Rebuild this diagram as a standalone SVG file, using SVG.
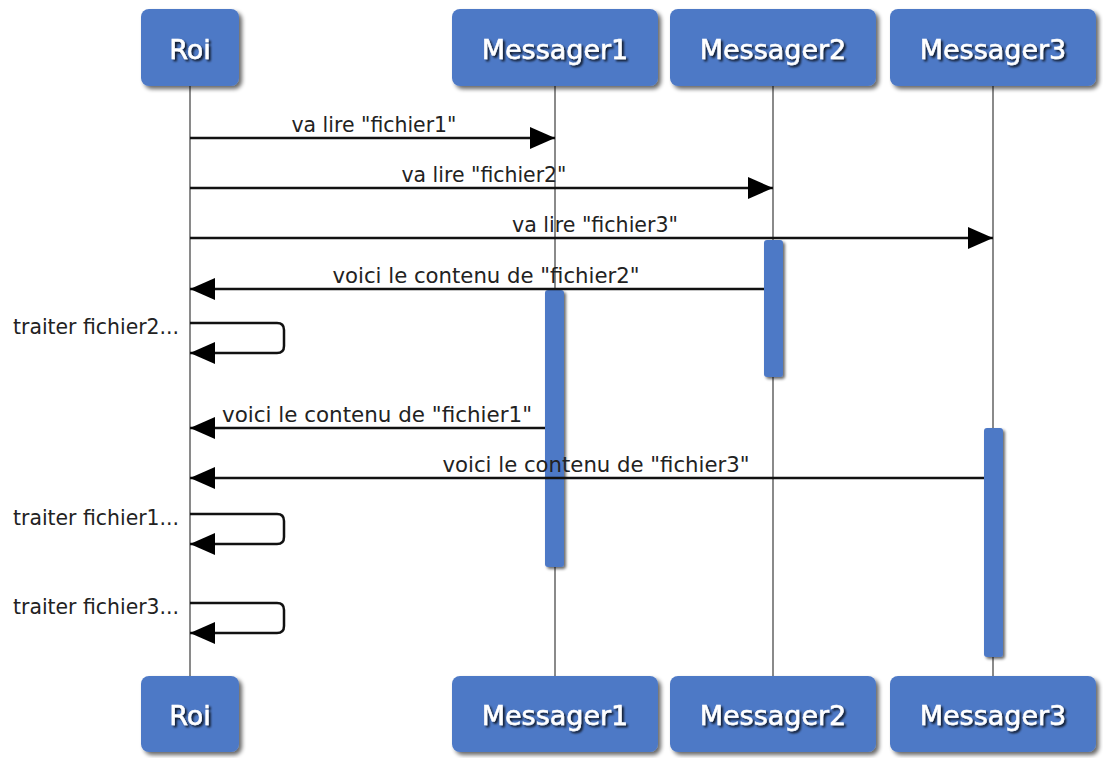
<svg xmlns="http://www.w3.org/2000/svg" width="1103" height="758" viewBox="0 0 1103 758">
<style>
.box{fill:#4e79c6;filter:url(#sh);}
.act{fill:#4e79c6;filter:url(#sh2);}
.nt{font-family:"DejaVu Sans",Verdana,sans-serif;font-size:27px;fill:#ffffff;stroke:#ffffff;stroke-width:0.5;text-anchor:middle;filter:url(#tsh);}
.life{stroke:#8a8a8a;stroke-width:2;fill:none;}
.msg{stroke:#111;stroke-width:2.5;fill:none;marker-end:url(#ah);}
.lbl{font-family:"DejaVu Sans",Verdana,sans-serif;font-size:22px;fill:#222;text-anchor:middle;}
.sl{font-family:"DejaVu Sans",Verdana,sans-serif;font-size:22px;fill:#222;text-anchor:end;}
</style>
<defs>
<filter id="sh" x="-10%" y="-10%" width="130%" height="130%">
<feGaussianBlur in="SourceAlpha" stdDeviation="2"/>
<feOffset dx="3" dy="3" result="b"/>
<feComponentTransfer><feFuncA type="linear" slope="0.6"/></feComponentTransfer>
<feMerge><feMergeNode/><feMergeNode in="SourceGraphic"/></feMerge>
</filter>
<filter id="sh2" x="-50%" y="-10%" width="200%" height="120%">
<feGaussianBlur in="SourceAlpha" stdDeviation="1.5"/>
<feOffset dx="2" dy="2" result="b"/>
<feComponentTransfer><feFuncA type="linear" slope="0.6"/></feComponentTransfer>
<feMerge><feMergeNode/><feMergeNode in="SourceGraphic"/></feMerge>
</filter>
<filter id="tsh" x="-10%" y="-30%" width="120%" height="160%">
<feGaussianBlur in="SourceAlpha" stdDeviation="1.2"/>
<feOffset dx="1.5" dy="1.5" result="b"/>
<feComponentTransfer><feFuncA type="linear" slope="0.8"/></feComponentTransfer>
<feMerge><feMergeNode/><feMergeNode in="SourceGraphic"/></feMerge>
</filter>
<marker id="ah" markerUnits="userSpaceOnUse" markerWidth="28" markerHeight="26" refX="25" refY="11" orient="auto">
<path d="M0,0 L25,11 L0,22 z" fill="#000"/>
</marker>
</defs>

<g id="lifelines">
<line class="life" x1="190" y1="86" x2="190" y2="677"/>
<line class="life" x1="555" y1="86" x2="555" y2="677"/>
<line class="life" x1="773" y1="86" x2="773" y2="677"/>
<line class="life" x1="993" y1="86" x2="993" y2="677"/>
</g>

<g id="Roi">
<rect class="box" x="141" y="9" width="98" height="77" rx="8"/>
<text class="nt" x="190" y="59">Roi</text>
<rect class="box" x="141" y="676" width="98" height="76" rx="8"/>
<text class="nt" x="190" y="725">Roi</text>
</g>
<g id="Messager1">
<rect class="box" x="452" y="9" width="206" height="77" rx="8"/>
<text class="nt" x="555" y="59">Messager1</text>
<rect class="box" x="452" y="676" width="206" height="76" rx="8"/>
<text class="nt" x="555" y="725">Messager1</text>
<rect class="act" x="545" y="290" width="19" height="277" rx="3"/>
</g>
<g id="Messager2">
<rect class="box" x="670" y="9" width="206" height="77" rx="8"/>
<text class="nt" x="773" y="59">Messager2</text>
<rect class="box" x="670" y="676" width="206" height="76" rx="8"/>
<text class="nt" x="773" y="725">Messager2</text>
<rect class="act" x="764" y="240" width="19" height="137" rx="3"/>
</g>
<g id="Messager3">
<rect class="box" x="890" y="9" width="206" height="77" rx="8"/>
<text class="nt" x="993" y="59">Messager3</text>
<rect class="box" x="890" y="676" width="206" height="76" rx="8"/>
<text class="nt" x="993" y="725">Messager3</text>
<rect class="act" x="984" y="428" width="19" height="229" rx="3"/>
</g>

<g id="connectors">
<line class="msg" x1="190" y1="138" x2="555" y2="138"/>
<text class="lbl" x="374" y="132" textLength="165" lengthAdjust="spacingAndGlyphs">va lire "fichier1"</text>
<line class="msg" x1="190" y1="188" x2="773" y2="188"/>
<text class="lbl" x="484" y="182" textLength="165" lengthAdjust="spacingAndGlyphs">va lire "fichier2"</text>
<line class="msg" x1="190" y1="238" x2="993" y2="238"/>
<text class="lbl" x="595" y="232" textLength="166" lengthAdjust="spacingAndGlyphs">va lire "fichier3"</text>
<line class="msg" x1="764" y1="289" x2="190" y2="289"/>
<text class="lbl" x="486" y="283" textLength="307" lengthAdjust="spacingAndGlyphs">voici le contenu de "fichier2"</text>
<path class="msg" d="M190,323 H277 Q284,323 284,330 V346 Q284,353 277,353 H190"/>
<text class="sl" x="179" y="334" textLength="166" lengthAdjust="spacingAndGlyphs">traiter fichier2...</text>
<line class="msg" x1="545" y1="428" x2="190" y2="428"/>
<text class="lbl" x="377" y="422" textLength="310" lengthAdjust="spacingAndGlyphs">voici le contenu de "fichier1"</text>
<line class="msg" x1="984" y1="478" x2="190" y2="478"/>
<text class="lbl" x="596" y="472" textLength="307" lengthAdjust="spacingAndGlyphs">voici le contenu de "fichier3"</text>
<path class="msg" d="M190,514 H277 Q284,514 284,521 V537 Q284,544 277,544 H190"/>
<text class="sl" x="179" y="525" textLength="166" lengthAdjust="spacingAndGlyphs">traiter fichier1...</text>
<path class="msg" d="M190,603 H277 Q284,603 284,610 V626 Q284,633 277,633 H190"/>
<text class="sl" x="179" y="614" textLength="166" lengthAdjust="spacingAndGlyphs">traiter fichier3...</text>
</g>
</svg>
